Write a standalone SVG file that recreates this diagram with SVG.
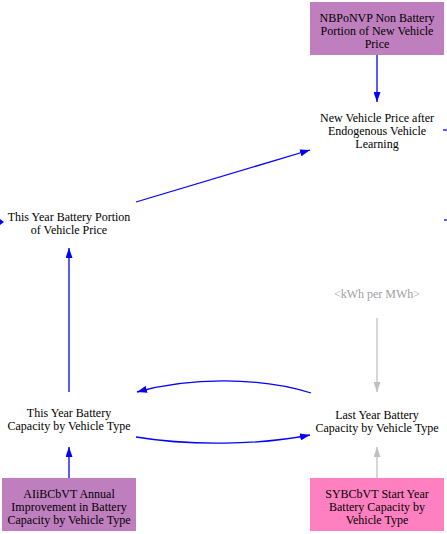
<svg xmlns="http://www.w3.org/2000/svg" width="447" height="534" viewBox="0 0 447 534">
<defs>
<marker id="ab" markerWidth="10" markerHeight="7" refX="10" refY="3.5" orient="auto" markerUnits="userSpaceOnUse"><path d="M0,0 L10,3.5 L0,7 Z" fill="#0000ff"/></marker>
<marker id="ag" markerWidth="10" markerHeight="7" refX="10" refY="3.5" orient="auto" markerUnits="userSpaceOnUse"><path d="M0,0 L10,3.5 L0,7 Z" fill="#c0c0c0"/></marker>
</defs>
<style>
text{font-family:"Liberation Serif","Times New Roman",serif;font-size:12px;text-anchor:middle;fill:#000}
.g{fill:#a0a0a0}
.b{stroke:#0000ff;stroke-width:1.3;fill:none}
.gr{stroke:#c0c0c0;stroke-width:1.3;fill:none}
</style>
<rect width="447" height="534" fill="#fff"/>
<g id="connectors">
<path class="b" d="M377,55 L377,102" marker-end="url(#ab)"/>
<path class="b" d="M136,202 L310,150" marker-end="url(#ab)"/>
<path class="b" d="M69,392 L69,248" marker-end="url(#ab)"/>
<path class="b" d="M311,393 C260,377 190,377 137,392" marker-end="url(#ab)"/>
<path class="b" d="M136,437 C190,446 260,445 310,435" marker-end="url(#ab)"/>
<path class="b" d="M69,478 L69,447" marker-end="url(#ab)"/>
<path class="gr" d="M377,318 L377,392" marker-end="url(#ag)"/>
<path class="gr" d="M377,478 L377,447" marker-end="url(#ag)"/>
<path class="b" d="M443,130 L447,130"/>
<path class="b" d="M444,220 L447,220"/>
<path d="M0,219 L4,222 L0,225 Z" fill="#0000ff"/>
</g>
<g id="NBPoNVP">
<rect x="310" y="2" width="134" height="53" fill="#bf7fbf"/>
<text x="377" y="22">NBPoNVP Non Battery</text>
<text x="377" y="35">Portion of New Vehicle</text>
<text x="377" y="48">Price</text>
</g>
<g id="NewVehiclePrice">
<text x="377" y="122">New Vehicle Price after</text>
<text x="377" y="135">Endogenous Vehicle</text>
<text x="377" y="148">Learning</text>
</g>
<g id="ThisYearPortion">
<text x="69" y="221">This Year Battery Portion</text>
<text x="69" y="234">of Vehicle Price</text>
</g>
<g id="kWhperMWh">
<text class="g" x="377" y="298">&lt;kWh per MWh&gt;</text>
</g>
<g id="ThisYearCapacity">
<text x="69" y="417">This Year Battery</text>
<text x="69" y="430">Capacity by Vehicle Type</text>
</g>
<g id="LastYearCapacity">
<text x="377" y="419">Last Year Battery</text>
<text x="377" y="432">Capacity by Vehicle Type</text>
</g>
<g id="AIiBCbVT">
<rect x="2" y="478" width="134" height="53" fill="#bf7fbf"/>
<text x="69" y="498">AIiBCbVT Annual</text>
<text x="69" y="511">Improvement in Battery</text>
<text x="69" y="524">Capacity by Vehicle Type</text>
</g>
<g id="SYBCbVT">
<rect x="310" y="478" width="134" height="53" fill="#ff80c0"/>
<text x="377" y="498">SYBCbVT Start Year</text>
<text x="377" y="511">Battery Capacity by</text>
<text x="377" y="524">Vehicle Type</text>
</g>
</svg>
